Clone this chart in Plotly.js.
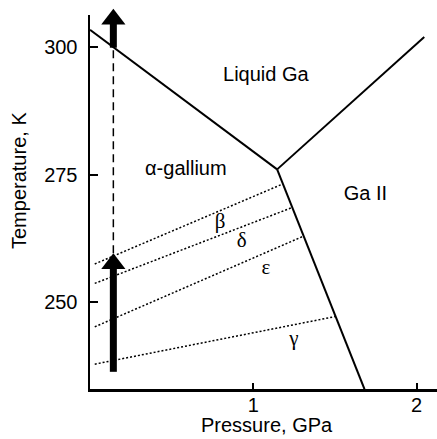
<!DOCTYPE html>
<html>
<head>
<meta charset="utf-8">
<script src="https://cdn.plot.ly/plotly-3.0.1.min.js"></script>
<style>html,body{margin:0;padding:0;background:#fff;}#chart{width:437px;height:439px;}</style>
</head>
<body>
<div id="chart"></div>
<script>
// Phase boundaries (pressure GPa, temperature K)
const meltP = [0, 1.146];
const meltT = [303.3, 276.0];
const liqIIP = [1.146, 2.047];
const liqIIT = [276.0, 301.9];
const alphaIIP = [1.146, 1.681];
const alphaIIT = [276.0, 233.0];

// Metastable phase boundaries (dotted)
const betaP = [0.029, 1.17];
const betaT = [257.5, 273.0];
const deltaP = [0.029, 1.235];
const deltaT = [253.7, 268.5];
const epsP = [0.029, 1.305];
const epsT = [245.2, 262.9];
const gammaP = [0.029, 1.50];
const gammaT = [237.9, 247.2];

// Heating path
const pathP = 0.143;
const lowArrowFrom = 236.4;
const lowArrowTip = 259.6;
const dashFrom = 259.6;
const dashTo = 299.8;
const highArrowFrom = 299.8;
const highArrowTip = 307.4;

// Labels
const labelText = ['Liquid Ga', 'α-gallium', 'Ga II'];
const labelP = [1.077, 0.587, 1.687];
const labelT = [294.2, 275.8, 270.9];
const greekText = ['β', 'δ', 'ε', 'γ'];
const greekP = [0.797, 0.929, 1.077, 1.248];
const greekT = [265.5, 261.9, 256.5, 242.6];

const xTicks = [1, 2];
const yTicks = [250, 275, 300];
const xRange = [0, 2.125];
const yRange = [233.04, 306.2];

const W = 437, H = 439, mL = 90, mR = 0, mT = 15, mB = 50;
const plotH = H - mT - mB;
const plotW = W - mL - mR;
const kPerPx = (yRange[1] - yRange[0]) / plotH;
const headSize = 21;            // triangle marker size
const headR = headSize / 2;     // tip sits r px above centre

const solid = {color: '#000', width: 2};
const dotted = {color: '#000', width: 1.5, dash: '2px,2px'};

function line(x, y, ln, extra) {
  return Object.assign({x: x, y: y, mode: 'lines', line: ln, hoverinfo: 'skip', showlegend: false}, extra || {});
}

function arrow(fromT, tipT) {
  const centreT = tipT - headR * kPerPx;
  return [
    line([pathP, pathP], [fromT, centreT], {color: '#000', width: 7}),
    {x: [pathP], y: [centreT], mode: 'markers', cliponaxis: false, showlegend: false, hoverinfo: 'skip',
     marker: {symbol: 'triangle-up', size: headSize, color: '#000', line: {width: 0}}}
  ];
}

const traces = [
  line(meltP, meltT, solid),
  line(liqIIP, liqIIT, solid),
  line(alphaIIP, alphaIIT, solid),
  line(betaP, betaT, dotted),
  line(deltaP, deltaT, dotted),
  line(epsP, epsT, dotted),
  line(gammaP, gammaT, dotted),
  line([pathP, pathP], [dashFrom, dashTo], {color: '#000', width: 1.5, dash: '8px,5px'}),
  ...arrow(lowArrowFrom, lowArrowTip),
  ...arrow(highArrowFrom, highArrowTip),
  {x: labelP, y: labelT, text: labelText, mode: 'text', showlegend: false, hoverinfo: 'skip',
   textfont: {family: 'Liberation Sans, Arial, sans-serif', size: 20, color: '#000'}},
  {x: greekP, y: greekT, text: greekText, mode: 'text', showlegend: false, hoverinfo: 'skip',
   textfont: {family: 'Liberation Serif, Times New Roman, serif', size: 21, color: '#000'}}
];

const axisFont = {family: 'Liberation Sans, Arial, sans-serif', size: 20, color: '#000'};

const layout = {
  width: W, height: H,
  margin: {l: mL, r: mR, t: mT, b: mB, pad: 0},
  paper_bgcolor: '#fff', plot_bgcolor: '#fff',
  showlegend: false,
  font: axisFont,
  xaxis: {
    range: xRange, tickvals: xTicks, ticktext: xTicks.map(String),
    showgrid: false, zeroline: false, showline: true, linecolor: '#000', linewidth: 2.5,
    ticks: 'inside', ticklen: 6, tickwidth: 2, tickcolor: '#000',
    tickfont: axisFont, ticklabelstandoff: -4,
    title: {text: ''}
  },
  yaxis: {
    range: yRange, tickvals: yTicks, ticktext: yTicks.map(String),
    showgrid: false, zeroline: false, showline: true, linecolor: '#000', linewidth: 2.5,
    ticks: 'inside', ticklen: 8, tickwidth: 2, tickcolor: '#000',
    tickfont: axisFont, ticklabelstandoff: 6,
    title: {text: ''}
  },
  annotations: [{
    text: 'Temperature, K', xref: 'paper', yref: 'paper',
    x: (19 - mL) / plotW, y: (H - mB - 181) / plotH,
    showarrow: false, textangle: -90, font: axisFont,
    xanchor: 'center', yanchor: 'middle'
  }, {
    text: 'Pressure, GPa', xref: 'paper', yref: 'paper',
    x: (266.5 - mL) / plotW, y: (H - mB - 425) / plotH,
    showarrow: false, font: axisFont,
    xanchor: 'center', yanchor: 'middle'
  }]
};

Plotly.newPlot('chart', traces, layout, {staticPlot: true, displayModeBar: false});
</script>
</body>
</html>
